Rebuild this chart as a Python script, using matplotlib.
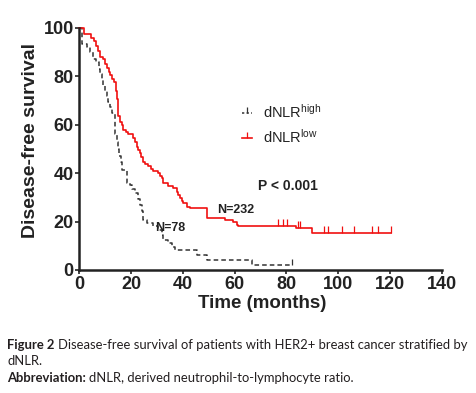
import matplotlib
matplotlib.use("Agg")
import matplotlib.pyplot as plt
from matplotlib.lines import Line2D
from matplotlib.transforms import offset_copy

plt.rcParams['font.family'] = ['Liberation Sans', 'DejaVu Sans']
plt.rcParams['mathtext.fontset'] = 'custom'
plt.rcParams['mathtext.rm'] = 'Liberation Sans'
plt.rcParams['mathtext.it'] = 'Liberation Sans'
plt.rcParams['mathtext.bf'] = 'Liberation Sans:bold'

# dNLR high (N=78)
high_t = [0, 1.0, 3.0, 4.3, 5.2, 6.6, 7.5, 8.0, 8.7, 9.3, 10.0, 10.6, 11.2, 11.9, 12.5,
          13.6, 13.9, 14.4, 15.0, 15.3, 16.0, 16.4, 18.3, 19.6, 20.5, 21.5, 22.7, 23.4,
          24.1, 24.6, 26.0, 28.5, 30.4, 31.8, 32.3, 34.3, 35.7, 37.0, 45.3, 49.2, 66.6, 82.0]
high_s = [100, 93.5, 92.3, 90, 87.2, 85.9, 83, 81, 79, 76.5, 74, 72, 69.5, 67.5, 65,
          60, 56, 53, 50, 47, 44.5, 41.4, 36, 35, 33.5, 32, 29.5, 27,
          24.5, 20.5, 19.5, 18, 16.5, 14.5, 12.4, 11, 9.6, 8.3, 6.4, 4.1, 2.1, 2.1]
high_cens_t = [82.0]
high_cens_s = [2.1]

# dNLR low (N=232)
low_t = [0, 2.0, 4.5, 5.8, 6.6, 7.3, 7.9, 9.0, 9.8, 10.6, 11.3, 11.9, 12.7, 13.5, 14.0,
         14.4, 14.8, 15.1, 15.7, 16.4, 17.0, 18.0, 18.9, 20.9, 21.5, 22.2, 22.8, 23.4,
         24.0, 24.7, 25.5, 26.7, 27.6, 28.6, 30.5, 31.2, 31.8, 32.4, 34.4, 36.3, 37.6,
         38.3, 38.9, 39.5, 40.2, 41.5, 42.8, 49.5, 56.3, 59.5, 60.8, 61.4, 83.7, 89.8, 120.3]
low_s = [100, 97.5, 96, 94.5, 92.5, 90.5, 88, 87, 85, 83.5, 82, 80.5, 79, 77.5, 74,
         70.5, 67, 63.5, 61, 60, 58, 57, 56, 54.5, 53, 51, 49.5, 48.3,
         46.5, 44.8, 43.8, 42.8, 41.8, 40.7, 40, 39, 38, 35.9, 34.5, 33.8, 32.4,
         31, 29.7, 28.7, 27.6, 26.2, 25.5, 21.4, 20.7, 20, 18.6, 18, 17.2, 15.2, 15.2]
low_cens_t = [76.9, 78.8, 80.3, 84.6, 85.2, 94.5, 96.2, 101.6, 106.1, 112.9, 115.5, 120.3]
low_cens_s = [18, 18, 18, 17.2, 17.2, 15.2, 15.2, 15.2, 15.2, 15.2, 15.2, 15.2]

xticks = [0, 20, 40, 60, 80, 100, 120, 140]
yticks = [0, 20, 40, 60, 80, 100]

fig = plt.figure(figsize=(4.76, 3.93), dpi=100)
ax = fig.add_axes([0.1666, 0.313, 0.928 - 0.1666, 0.9288 - 0.313])

red = '#f01010'
dark = '#333333'
ax.plot(high_t, high_s, drawstyle='steps-post', color=dark, lw=1.1, ls=(0, (3, 2)), clip_on=False)
ax.plot(high_cens_t, high_cens_s, ls='none', marker=2, ms=4, mew=0.9, color=dark, clip_on=False)
ax.plot(low_t, low_s, drawstyle='steps-post', color=red, lw=1.2, clip_on=False)
ax.plot(low_cens_t, low_cens_s, ls='none', marker=2, ms=5, mew=0.9, color=red, clip_on=False)

ax.set_xlim(0, 140)
ax.set_ylim(0, 100)
ax.set_xticks(xticks)
ax.set_yticks(yticks)
for s in ['top', 'right']:
    ax.spines[s].set_visible(False)
for s in ['left', 'bottom']:
    ax.spines[s].set_linewidth(1.8)
    ax.spines[s].set_color('#222222')
ax.tick_params(direction='out', length=3, width=1.2, color='#222222', pad=1,
               labelsize=13, labelcolor='#222222')
for lab in ax.get_xticklabels() + ax.get_yticklabels():
    lab.set_fontweight('bold')

ax.set_xlabel('Time (months)', fontsize=13.5, fontweight='bold', color='#222222')
ax.xaxis.set_label_coords(0.505, -0.105)
ax.set_ylabel('Disease-free survival', fontsize=14, fontweight='bold', color='#222222')
ax.yaxis.set_label_coords(-0.111, 0.537)

ax.text(29.2, 17.4, 'N=78', fontsize=9, fontweight='bold', color='#222222', va='center', ha='left')
ax.text(53.1, 24.8, 'N=232', fontsize=9, fontweight='bold', color='#222222', va='center', ha='left')
ax.text(69.0, 34.8, 'P < 0.001', fontsize=10, fontweight='bold', color='#222222', va='center', ha='left')

handles = [Line2D([], [], color=dark, lw=1.1, ls=(0, (1.5, 1.5)), marker=2, ms=4, mew=0.9),
           Line2D([], [], color=red, lw=1.2, marker=2, ms=4, mew=0.9)]
labels = ['dNLR$^{\\mathrm{high}}$', 'dNLR$^{\\mathrm{low}}$']
ax.legend(handles, labels, loc='upper left', bbox_to_anchor=(0.509, 0.738),
          bbox_transform=fig.transFigure, frameon=False, fontsize=10.5,
          borderpad=0, borderaxespad=0,
          handlelength=0.65, handletextpad=0.75, labelspacing=0.5, numpoints=1,
          labelcolor='#222222')

cap_font = ['Lato', 'DejaVu Sans']
cap_size = 9.4
cap_col = '#231f20'
renderer = fig.canvas.get_renderer()

def caption_line(y, bold_part, rest):
    x = 0.015
    if bold_part:
        t = fig.text(x, y, bold_part, fontsize=cap_size, fontweight='bold', family=cap_font, color=cap_col)
        bb = t.get_window_extent(renderer=renderer)
        tr = offset_copy(fig.transFigure, fig=fig, x=bb.width + 3, y=0, units='dots')
        fig.text(x, y, rest, fontsize=cap_size, family=cap_font, color=cap_col, transform=tr)
    else:
        fig.text(x, y, rest, fontsize=cap_size, family=cap_font, color=cap_col)

caption_line(0.113, 'Figure 2', 'Disease-free survival of patients with HER2+ breast cancer stratified by')
caption_line(0.070, None, 'dNLR.')
caption_line(0.027, 'Abbreviation:', 'dNLR, derived neutrophil-to-lymphocyte ratio.')

fig.savefig('out.png', dpi=100)
